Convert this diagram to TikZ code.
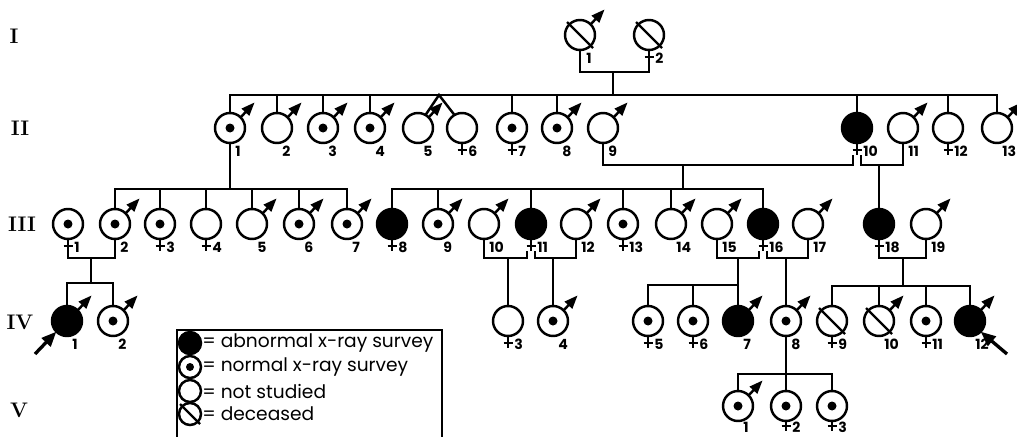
\documentclass[tikz,border=0pt]{standalone}
\usepackage{fontspec}
\setsansfont{Poppins}
\usetikzlibrary{arrows.meta}

\begin{document}
\begin{tikzpicture}[x=0.02cm,y=-0.02cm,
    % line and symbol styles
    ln/.style={line width=1.4pt},
    pers/.style={circle,draw,line width=1.4pt,minimum size=0.6cm,inner sep=0pt,outer sep=0pt},
    open/.style={pers},
    norm/.style={pers,path picture={\fill (path picture bounding box.center) circle (0.09cm);}},
    abn/.style={pers,fill=black},
    dec/.style={pers},
    lgsym/.style={circle,draw,line width=1.4pt,minimum size=0.44cm,inner sep=0pt},
    marrow/.style={line width=1.4pt,-{Triangle[length=0.27cm,width=0.2cm]}},
    parrow/.style={line width=1.9pt,-{Triangle[length=0.3cm,width=0.24cm]}},
    num/.style={anchor=west,inner sep=0pt,font=\sffamily\bfseries\fontsize{8}{8}\selectfont},
    gen/.style={inner sep=0pt,font=\bfseries\fontsize{12}{12}\selectfont},
    lgtext/.style={anchor=west,inner sep=0pt,font=\sffamily\fontsize{10.6}{10.6}\selectfont}]

    \useasboundingbox (0,0) rectangle (1017,436);

    % generation numerals
    \node[gen] (gI) at (14,36) {I};
    \node[gen] (gII) at (20,128) {II};
    \node[gen] (gIII) at (22,224) {III};
    \node[gen] (gIV) at (20,322) {IV};
    \node[gen] (gV) at (19,410) {V};

    % generation I
    \foreach \n/\x/\k/\l in {I1/580/dec/1}{
        \node[\k] (\n) at (\x,35) {};
        \draw[marrow] (\n.45) -- ++(14,-15);
        \node[num] at (\x+6,58) {\l};
    }
    \foreach \n/\x/\k/\l in {I2/649/dec/2}{
        \node[\k] (\n) at (\x,35) {};
        \coordinate (\n-f) at (\x,62);
        \draw[ln] (\n.south) -- (\n-f);
        \draw[ln] (\x-4.5,57) -- (\x+4.5,57);
        \node[num] at (\x+6,58) {\l};
    }

    % generation II
    \foreach \n/\x/\k/\l in {II1/230/norm/1,II2/277/open/2,II3/323/norm/3,II4/370/norm/4,
        II5/418/open/5,II8/557/norm/8,II9/603/open/9,II11/903/open/11,II13/997/open/13}{
        \node[\k] (\n) at (\x,128) {};
        \draw[marrow] (\n.45) -- ++(14,-15);
        \node[num] at (\x+5,151) {\l};
    }
    \foreach \n/\x/\k/\l in {II6/462/open/6,II7/512/norm/7,II10/857/abn/10,II12/948/open/12}{
        \node[\k] (\n) at (\x,128) {};
        \coordinate (\n-f) at (\x,155);
        \draw[ln] (\n.south) -- (\n-f);
        \draw[ln] (\x-4.5,150) -- (\x+4.5,150);
        \node[num] at (\x+6,151) {\l};
    }

    % generation III
    \foreach \n/\x/\k/\l in {III2/115/norm/2,III5/252/open/5,III6/299/norm/6,III7/347/norm/7,
        III9/438/norm/9,III10/484/open/10,III12/576/open/12,III14/671/open/14,
        III15/717/open/15,III17/808/open/17,III19/926/open/19}{
        \node[\k] (\n) at (\x,224) {};
        \draw[marrow] (\n.45) -- ++(14,-15);
        \node[num] at (\x+5,247) {\l};
    }
    \foreach \n/\x/\k/\l in {III1/68/norm/1,III3/160/norm/3,III4/206/open/4,III8/392/abn/8,
        III11/531/abn/11,III13/623/norm/13,III16/763/abn/16,III18/879/abn/18}{
        \node[\k] (\n) at (\x,224) {};
        \coordinate (\n-f) at (\x,251);
        \draw[ln] (\n.south) -- (\n-f);
        \draw[ln] (\x-4.5,246) -- (\x+4.5,246);
        \node[num] at (\x+6,247) {\l};
    }

    % generation IV
    \foreach \n/\x/\k/\l in {IV1/67/abn/1,IV2/113/norm/2,IV4/553/norm/4,IV7/738/abn/7,
        IV8/786/norm/8,IV10/879/dec/10,IV12/970/abn/12}{
        \node[\k] (\n) at (\x,321) {};
        \draw[marrow] (\n.45) -- ++(14,-15);
        \node[num] at (\x+5,344) {\l};
    }
    \foreach \n/\x/\k/\l in {IV3/508/open/3,IV5/648/norm/5,IV6/693/norm/6,IV9/832/dec/9,
        IV11/926/norm/11}{
        \node[\k] (\n) at (\x,321) {};
        \draw[ln] (\n.south) -- ++(0,12);
        \draw[ln] (\x-4.5,343) -- (\x+4.5,343);
        \node[num] at (\x+6,344) {\l};
    }

    % generation V
    \foreach \n/\x/\k/\l in {V1/738/norm/1}{
        \node[\k] (\n) at (\x,406) {};
        \draw[marrow] (\n.45) -- ++(14,-15);
        \node[num] at (\x+5,427) {\l};
    }
    \foreach \n/\x/\k/\l in {V2/786/norm/2,V3/832/norm/3}{
        \node[\k] (\n) at (\x,406) {};
        \draw[ln] (\n.south) -- ++(0,10);
        \draw[ln] (\x-4.5,426) -- (\x+4.5,426);
        \node[num] at (\x+6,427) {\l};
    }

    % deceased strokes
    \foreach \n in {I1,I2,IV9,IV10}
        \draw[ln] ([shift={(-13,-13)}]\n.center) -- ([shift={(13,13)}]\n.center);

    % marriage and sibship lines
    \coordinate (mI) at (613,72);
    \coordinate (sII) at (613,95);
    \draw[ln] (I1.south) |- (mI) -| (I2-f);
    \draw[ln] (mI) -- (sII);
    \draw[ln] (II1.north) |- (sII) -| (II13.north);
    \foreach \n in {II2,II3,II4,II7,II8,II10,II12}
        \draw[ln] (\n.north) -- (\n.north |- sII);
    \coordinate (tw) at (439,95);
    \draw[ln] (II5.60) -- (tw) -- (II6.120);

    \coordinate (mII9) at (683,165);
    \coordinate (mII11) at (879,165);
    \draw[ln] (II9.south) |- (mII9) -| ([xshift=-0.08cm]II10-f);
    \draw[ln] ([xshift=0.08cm]II10-f) |- (mII11) -| (II11.south);
    \draw[ln] (mII11) -- (III18.north);

    \coordinate (sIII1) at (230,189);
    \draw[ln] (II1.south) -- (sIII1);
    \draw[ln] (III2.north) |- (sIII1) -| (III7.north);
    \foreach \n in {III3,III4,III5,III6}
        \draw[ln] (\n.north) -- (\n.north |- sIII1);

    \coordinate (sIII9) at (683,189);
    \draw[ln] (mII9) -- (sIII9);
    \draw[ln] (III8.north) |- (sIII9) -| (III16.north);
    \foreach \n in {III9,III11,III13,III14}
        \draw[ln] (\n.north) -- (\n.north |- sIII9);

    \coordinate (mIII2) at (91,258);
    \coordinate (sIV1) at (91,283);
    \draw[ln] (III1-f) |- (mIII2) -| (III2.south);
    \draw[ln] (mIII2) -- (sIV1);
    \draw[ln] (IV1.north) |- (sIV1) -| (IV2.north);

    \coordinate (mIII10) at (508,258);
    \coordinate (mIII12) at (553,258);
    \draw[ln] (III10.south) |- (mIII10) -| ([xshift=-0.08cm]III11-f);
    \draw[ln] ([xshift=0.08cm]III11-f) |- (mIII12) -| (III12.south);
    \draw[ln] (mIII10) -- (IV3.north);
    \draw[ln] (mIII12) -- (IV4.north);

    \coordinate (mIII15) at (738,258);
    \coordinate (mIII17) at (786,258);
    \coordinate (sIV5) at (738,285);
    \draw[ln] (III15.south) |- (mIII15) -| ([xshift=-0.08cm]III16-f);
    \draw[ln] ([xshift=0.08cm]III16-f) |- (mIII17) -| (III17.south);
    \draw[ln] (mIII15) -- (IV7.north);
    \draw[ln] (IV5.north) |- (sIV5);
    \draw[ln] (IV6.north) -- (IV6.north |- sIV5);
    \draw[ln] (mIII17) -- (IV8.north);

    \coordinate (mIII18) at (903,258);
    \coordinate (sIV9) at (903,286);
    \draw[ln] (III18-f) |- (mIII18) -| (III19.south);
    \draw[ln] (mIII18) -- (sIV9);
    \draw[ln] (IV9.north) |- (sIV9) -| (IV12.north);
    \foreach \n in {IV10,IV11}
        \draw[ln] (\n.north) -- (\n.north |- sIV9);

    \coordinate (sV) at (786,374);
    \draw[ln] (IV8.south) -- (V2.north);
    \draw[ln] (V1.north) |- (sV) -| (V3.north);

    % probands
    \coordinate (pa1) at (35,354);
    \coordinate (pa12) at (1007,354);
    \draw[parrow] (pa1) -- (IV1.225);
    \draw[parrow] (pa12) -- (IV12.-45);

    % legend
    \draw[ln] (177,330) rectangle (442,460);
    \node[lgsym,fill=black] (lg1) at (190,343) {};
    \node[lgsym,path picture={\fill (path picture bounding box.center) circle (0.08cm);}] (lg2) at (190,367) {};
    \node[lgsym] (lg3) at (190,391) {};
    \node[lgsym] (lg4) at (190,414) {};
    \draw[ln] ([shift={(-10,-10)}]lg4.center) -- ([shift={(10,10)}]lg4.center);
    \node[lgtext] (lt1) at (202,343) {= abnormal x-ray survey};
    \node[lgtext] (lt2) at (202,367) {= normal x-ray survey};
    \node[lgtext] (lt3) at (202,391) {= not studied};
    \node[lgtext] (lt4) at (202,414) {= deceased};
\end{tikzpicture}
\end{document}
